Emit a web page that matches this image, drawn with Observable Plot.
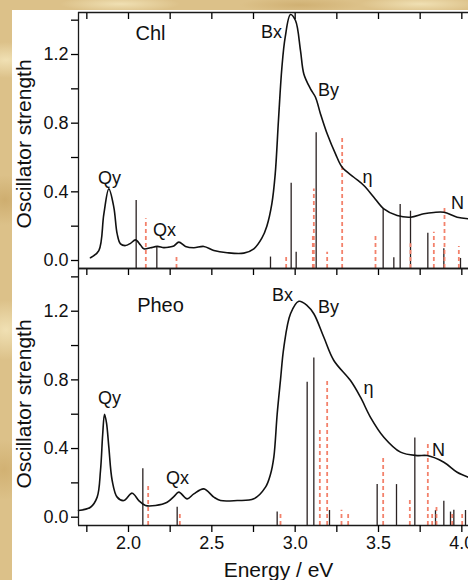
<!DOCTYPE html>
<html>
<head>
<meta charset="utf-8">
<script src="https://cdn.jsdelivr.net/npm/d3@7"></script>
<script src="https://cdn.jsdelivr.net/npm/@observablehq/plot@0.6"></script>
<style>
html, body { margin: 0; padding: 0; overflow: hidden; }
body {
  width: 468px; height: 580px;
  background-color: #dcc189;
  background-image:
    radial-gradient(ellipse 40px 18px at 6px 60px, rgba(245,232,190,0.8), rgba(245,232,190,0) 100%),
    radial-gradient(ellipse 30px 25px at 5px 200px, rgba(200,165,100,0.7), rgba(200,165,100,0) 100%),
    radial-gradient(ellipse 35px 30px at 6px 330px, rgba(245,232,190,0.8), rgba(245,232,190,0) 100%),
    radial-gradient(ellipse 30px 30px at 4px 470px, rgba(205,170,105,0.7), rgba(205,170,105,0) 100%),
    radial-gradient(ellipse 60px 8px at 120px 4px, rgba(245,232,190,0.8), rgba(245,232,190,0) 100%),
    radial-gradient(ellipse 60px 8px at 300px 5px, rgba(200,165,100,0.6), rgba(200,165,100,0) 100%),
    radial-gradient(ellipse 60px 8px at 420px 4px, rgba(245,232,190,0.8), rgba(245,232,190,0) 100%);
}
#wrap { position: relative; width: 468px; height: 580px; overflow: hidden; }
#paper { position: absolute; left: 12px; top: 10px; width: 456px; height: 570px; background: #fff; }
#top, #bot { position: absolute; left: 0; width: 468px; }
#top { top: 0; }
#bot { top: 250px; }
svg { overflow: visible; }
</style>
</head>
<body>
<div id="wrap">
  <div id="paper"></div>
  <div id="top"></div>
  <div id="bot"></div>
</div>
<script>
// ---- tick values ----
const energyTicks = [2.0, 2.5, 3.0, 3.5, 4.0];
const energyMinor = [1.75, 2.25, 2.75, 3.25, 3.75];
const strengthTicks = [0.0, 0.4, 0.8, 1.2];
const strengthMinor = [0.2, 0.6, 1.0, 1.4];

// ---- Chl: measured spectrum ----
const chlE = [1.772, 1.822, 1.852, 1.882, 1.912, 1.932, 1.952, 1.982, 2.012, 2.042, 2.072, 2.092, 2.132, 2.172, 2.212, 2.242, 2.272, 2.302, 2.342, 2.392, 2.452, 2.512, 2.592, 2.692, 2.752, 2.800, 2.830, 2.860, 2.880, 2.900, 2.920, 2.940, 2.972, 3.002, 3.032, 3.052, 3.092, 3.122, 3.152, 3.192, 3.242, 3.282, 3.352, 3.412, 3.472, 3.532, 3.612, 3.692, 3.772, 3.832, 3.892, 3.972, 4.040];
const chlF = [0.016, 0.058, 0.27, 0.417, 0.31, 0.155, 0.097, 0.087, 0.10, 0.12, 0.09, 0.068, 0.074, 0.082, 0.075, 0.078, 0.085, 0.107, 0.082, 0.074, 0.082, 0.058, 0.045, 0.043, 0.068, 0.13, 0.20, 0.33, 0.50, 0.82, 1.12, 1.30, 1.433, 1.398, 1.223, 1.087, 1.0, 0.951, 0.854, 0.738, 0.621, 0.543, 0.485, 0.437, 0.369, 0.301, 0.262, 0.252, 0.272, 0.280, 0.281, 0.252, 0.243];
// Chl: calculated transitions (black) and alternative calculation (red dashed)
const chlCalcE = [2.046, 2.170, 2.852, 2.976, 3.006, 3.126, 3.528, 3.592, 3.630, 3.692, 3.796, 3.892, 3.992];
const chlCalcF = [0.35, 0.078, 0.02, 0.45, 0.048, 0.744, 0.301, 0.016, 0.326, 0.287, 0.159, 0.068, 0.012];
const chlAltE = [2.104, 2.288, 2.946, 3.106, 3.112, 3.192, 3.282, 3.482, 3.692, 3.832, 3.896, 3.982];
const chlAltF = [0.243, 0.029, 0.029, 0.15, 0.417, 0.048, 0.718, 0.146, 0.097, 0.165, 0.314, 0.082];
const chlLabelText = ["Qy", "Qx", "Bx", "By", "η", "N"];
const chlLabelE = [1.886, 2.216, 2.858, 3.200, 3.434, 3.974];
const chlLabelF = [0.478, 0.175, 1.328, 0.990, 0.483, 0.332];

// ---- Pheo: measured spectrum ----
const pheoE = [1.700, 1.772, 1.812, 1.832, 1.845, 1.856, 1.868, 1.882, 1.902, 1.932, 1.972, 2.022, 2.062, 2.102, 2.162, 2.232, 2.272, 2.302, 2.352, 2.392, 2.452, 2.512, 2.552, 2.652, 2.752, 2.822, 2.852, 2.872, 2.892, 2.912, 2.932, 2.972, 3.022, 3.072, 3.112, 3.172, 3.232, 3.332, 3.392, 3.452, 3.532, 3.632, 3.732, 3.792, 3.892, 3.972, 4.040];
const pheoF = [0.039, 0.058, 0.117, 0.272, 0.48, 0.60, 0.55, 0.408, 0.214, 0.117, 0.097, 0.14, 0.097, 0.068, 0.068, 0.087, 0.12, 0.146, 0.107, 0.136, 0.165, 0.117, 0.097, 0.097, 0.107, 0.175, 0.25, 0.35, 0.60, 0.80, 0.99, 1.185, 1.258, 1.233, 1.185, 1.048, 0.913, 0.796, 0.699, 0.582, 0.466, 0.379, 0.359, 0.359, 0.32, 0.262, 0.233];
const pheoCalcE = [2.086, 2.292, 2.892, 3.072, 3.112, 3.206, 3.492, 3.608, 3.718, 3.842, 3.892, 3.932, 3.952, 4.022];
const pheoCalcF = [0.282, 0.058, 0.03, 0.786, 0.928, 0.039, 0.19, 0.19, 0.462, 0.039, 0.093, 0.03, 0.04, 0.039];
const pheoAltE = [2.118, 2.308, 2.912, 3.148, 3.192, 3.278, 3.318, 3.528, 3.688, 3.796, 3.822, 3.848, 3.942, 4.002];
const pheoAltF = [0.194, 0.03, 0.02, 0.505, 0.796, 0.04, 0.03, 0.353, 0.113, 0.433, 0.03, 0.068, 0.03, 0.02];
const pheoLabelText = ["Qy", "Qx", "Bx", "By", "η", "N"];
const pheoLabelE = [1.886, 2.294, 2.924, 3.200, 3.440, 3.860];
const pheoLabelF = [0.691, 0.225, 1.291, 1.221, 0.750, 0.388];

const zip = (E, F) => E.map((e, i) => ({e, f: F[i]}));
const xDomain = [1.7, 4.04];
const FONT = "'Liberation Sans', Arial, Helvetica, sans-serif";
const fmt = d3.format(".1f");

function panel({name, curveE, curveF, calcE, calcF, altE, altF, labT, labE, labF,
                yDomain, height, marginTop, marginBottom, bottomAxis, titleDy}) {
  const curve = zip(curveE, curveF);
  const calc = zip(calcE, calcF);
  const alt = zip(altE, altF);
  const labels = labT.map((t, i) => ({t, e: labE[i], f: labF[i]}));
  const frameStyle = {stroke: "#1a1a1a", strokeWidth: 1.3};
  const marks = [
    Plot.ruleX(calc, {x: "e", y1: yDomain[0], y2: "f", stroke: "#2a2222", strokeWidth: 1.3}),
    Plot.ruleX(alt, {x: "e", y1: yDomain[0], y2: "f", stroke: "#f3826c", strokeWidth: 1.8, strokeDasharray: "4,3"}),
    Plot.line(curve, {x: "e", y: "f", curve: "catmull-rom", stroke: "#111", strokeWidth: 1.6}),
    Plot.ruleX([xDomain[0]], frameStyle),
    Plot.ruleY([yDomain[0]], frameStyle),
    Plot.ruleY([yDomain[1]], frameStyle),
    Plot.axisY(strengthTicks, {anchor: "left", tickSize: 7, tickPadding: 3, tickFormat: fmt, fontSize: 18, label: null, strokeWidth: 1.3, fill: "#111"}),
    Plot.axisY(strengthMinor, {anchor: "left", tickSize: 7, tickFormat: () => null, label: null, strokeWidth: 1.3}),
    Plot.axisX([...energyTicks, ...energyMinor], {anchor: "top", tickSize: -6, tickFormat: () => null, label: null, strokeWidth: 1.3}),
    Plot.text(labels, {x: "e", y: "f", text: "t", fontSize: 18, fill: "#111"}),
    Plot.text([name], {text: d => d, frameAnchor: "top-left", dx: name === "Chl" ? 72 : 82, dy: name === "Chl" ? 21 : 37, fontSize: 20, fill: "#111", textAnchor: "middle", lineAnchor: "middle"}),
    Plot.text(["Oscillator strength"], {text: d => d, frameAnchor: "left", rotate: -90, dx: -54, dy: titleDy, fontSize: 21, fill: "#111", textAnchor: "middle", lineAnchor: "middle"})
  ];
  if (bottomAxis) {
    marks.push(
      Plot.axisX(energyTicks, {anchor: "bottom", tickSize: 7, tickPadding: 4, tickFormat: fmt, fontSize: 18, label: null, strokeWidth: 1.3, fill: "#111"}),
      Plot.axisX(energyMinor, {anchor: "bottom", tickSize: 7, tickFormat: () => null, label: null, strokeWidth: 1.3}),
      Plot.text(["Energy / eV"], {text: d => d, frameAnchor: "bottom", dx: 5, dy: 45, fontSize: 21, fill: "#111", textAnchor: "middle", lineAnchor: "middle"})
    );
  }
  return Plot.plot({
    width: 468,
    height,
    marginLeft: 78,
    marginRight: 0,
    marginTop,
    marginBottom,
    style: {background: "transparent", fontFamily: FONT, overflow: "visible"},
    x: {domain: xDomain, axis: null},
    y: {domain: yDomain, axis: null},
    marks
  });
}

document.getElementById("top").append(panel({
  name: "Chl", curveE: chlE, curveF: chlF, calcE: chlCalcE, calcF: chlCalcF,
  altE: chlAltE, altF: chlAltF, labT: chlLabelText, labE: chlLabelE, labF: chlLabelF,
  yDomain: [-0.0466, 1.4447], height: 290, marginTop: 12, marginBottom: 22,
  bottomAxis: false, titleDy: 3.5
}));
document.getElementById("bot").append(panel({
  name: "Pheo", curveE: pheoE, curveF: pheoF, calcE: pheoCalcE, calcF: pheoCalcF,
  altE: pheoAltE, altF: pheoAltF, labT: pheoLabelText, labE: pheoLabelE, labF: pheoLabelF,
  yDomain: [-0.0483, 1.4488], height: 330, marginTop: 18, marginBottom: 55,
  bottomAxis: true, titleDy: 7
}));
</script>
</body>
</html>
